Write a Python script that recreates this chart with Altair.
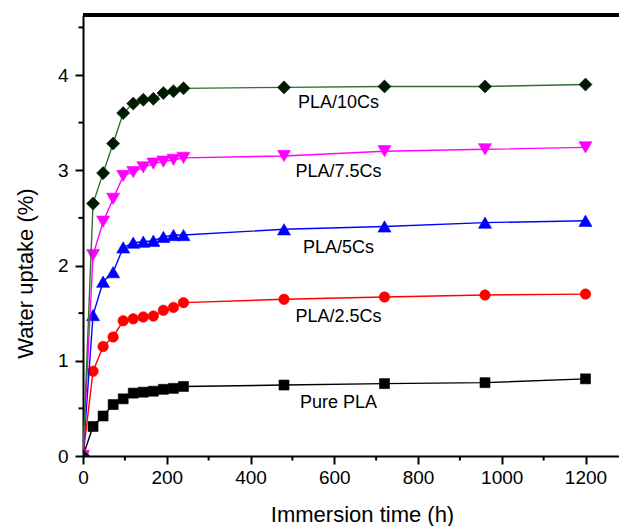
import altair as alt
import pandas as pd

# ---- data ----
time_h = [0, 24, 48, 72, 96, 120, 144, 168, 192, 216, 240, 480, 720, 960, 1200]
pure_pla = [0, 0.31, 0.42, 0.54, 0.60, 0.66, 0.67, 0.68, 0.70, 0.71, 0.73, 0.745, 0.76, 0.77, 0.81]
pla_2_5cs = [0, 0.89, 1.15, 1.25, 1.42, 1.44, 1.46, 1.47, 1.53, 1.56, 1.61, 1.645, 1.67, 1.69, 1.70]
pla_5cs = [0, 1.48, 1.83, 1.93, 2.19, 2.24, 2.25, 2.26, 2.30, 2.32, 2.32, 2.38, 2.41, 2.45, 2.47]
pla_7_5cs = [0, 2.11, 2.46, 2.70, 2.94, 2.98, 3.03, 3.07, 3.09, 3.11, 3.13, 3.15, 3.20, 3.22, 3.24]
pla_10cs = [0, 2.65, 2.97, 3.28, 3.60, 3.70, 3.74, 3.75, 3.81, 3.83, 3.86, 3.87, 3.88, 3.88, 3.90]

series_names = ["Pure PLA", "PLA/2.5Cs", "PLA/5Cs", "PLA/7.5Cs", "PLA/10Cs"]
series_values = [pure_pla, pla_2_5cs, pla_5cs, pla_7_5cs, pla_10cs]

# annotation labels (data coordinates)
label_text = ["Pure PLA", "PLA/2.5Cs", "PLA/5Cs", "PLA/7.5Cs", "PLA/10Cs"]
label_x = [610, 610, 610, 610, 610]
label_y = [0.553, 1.462, 2.187, 2.985, 3.71]

x_major = [0, 200, 400, 600, 800, 1000, 1200]
x_minor = [100, 300, 500, 700, 900, 1100]
y_major = [0, 1, 2, 3, 4]
y_minor = [0.5, 1.5, 2.5, 3.5, 4.5]

# ---- styles ----
line_colors = ["#000000", "#ff0000", "#0000ff", "#ff00ff", "#2f6f2f"]
marker_colors = ["#000000", "#ff0000", "#0000ff", "#ff00ff", "#001a00"]
marker_shapes = ["square", "circle", "triangle-up", "triangle-down", "diamond"]
marker_sizes = [100, 110, 170, 170, 170]

FONT = "Liberation Sans"
W, H = 536, 441
MINOR = 4.5

rows = []
for name, vals in zip(series_names, series_values):
    for t, v in zip(time_h, vals):
        rows.append({"series": name, "time": t, "uptake": v})
df = pd.DataFrame(rows)

labels_df = pd.DataFrame({"text": label_text, "x": label_x, "y": label_y})
xminor_df = pd.DataFrame({"v": x_minor})
yminor_df = pd.DataFrame({"v": y_minor})

xscale = alt.Scale(domain=[0, 1280], nice=False, zero=False)
yscale = alt.Scale(domain=[0, 4.63], nice=False, zero=False)

x_axis = alt.Axis(
    values=x_major, orient="bottom", title="Immersion time (h)", format="d",
    tickSize=8, tickWidth=2, tickColor="black",
    domainWidth=2, domainColor="black",
    labelFontSize=19, labelFont=FONT, labelColor="black", labelPadding=4,
    labelFlush=False, labelOverlap=False,
    titleFontSize=22, titleFont=FONT, titleFontWeight="normal", titleColor="black",
    titleX=279, titleY=58, titleAlign="center", titleBaseline="middle",
    grid=False,
)
y_axis = alt.Axis(
    values=y_major, orient="left", title="Water uptake (%)", format="d",
    tickSize=8, tickWidth=2, tickColor="black",
    domainWidth=2, domainColor="black",
    labelFontSize=19, labelFont=FONT, labelColor="black", labelPadding=7,
    labelFlush=False, labelOverlap=False,
    titleFontSize=22, titleFont=FONT, titleFontWeight="normal", titleColor="black",
    titleAngle=270, titleX=-58, titleY=258, titleAlign="center", titleBaseline="middle",
    grid=False,
)

layers = []

# axes carrier
layers.append(
    alt.Chart(df).mark_point(opacity=0).encode(
        x=alt.X("time:Q", scale=xscale, axis=x_axis),
        y=alt.Y("uptake:Q", scale=yscale, axis=y_axis),
    )
)

# minor ticks
layers.append(
    alt.Chart(xminor_df).mark_rule(color="black", strokeWidth=2).encode(
        x=alt.X("v:Q", scale=xscale, axis=None),
        y=alt.value(H), y2=alt.value(H + MINOR),
    )
)
layers.append(
    alt.Chart(yminor_df).mark_rule(color="black", strokeWidth=2).encode(
        y=alt.Y("v:Q", scale=yscale, axis=None),
        x=alt.value(-MINOR), x2=alt.value(0),
    )
)

for name, lc, mc, shp, sz in zip(series_names, line_colors, marker_colors, marker_shapes, marker_sizes):
    sub = df[df["series"] == name]
    layers.append(
        alt.Chart(sub).mark_line(color=lc, strokeWidth=1.4, clip=True).encode(
            x=alt.X("time:Q", scale=xscale, axis=None),
            y=alt.Y("uptake:Q", scale=yscale, axis=None),
        )
    )
    layers.append(
        alt.Chart(sub).mark_point(
            shape=shp, size=sz, filled=True, fill=mc, stroke=mc, strokeWidth=0.6,
            opacity=1, clip=True,
        ).encode(
            x=alt.X("time:Q", scale=xscale, axis=None),
            y=alt.Y("uptake:Q", scale=yscale, axis=None),
        )
    )

layers.append(
    alt.Chart(labels_df).mark_text(
        font=FONT, fontSize=18, color="black", align="center", baseline="middle"
    ).encode(
        x=alt.X("x:Q", scale=xscale, axis=None),
        y=alt.Y("y:Q", scale=yscale, axis=None),
        text="text:N",
    )
)

# top frame line
layers.append(
    alt.Chart(df).mark_rule(color="black", strokeWidth=2.5).encode(
        x=alt.value(0), x2=alt.value(W + 5), y=alt.value(0)
    )
)

chart = (
    alt.layer(*layers)
    .resolve_axis(x="independent", y="independent")
    .properties(
        width=W, height=H,
        autosize=alt.AutoSizeParams(type="none"),
        padding={"left": 83, "top": 15, "right": 0, "bottom": 70},
        background="white",
    )
    .configure_view(strokeWidth=0)
)

chart.save("out.html", embed_options={"renderer": "svg", "actions": False})
